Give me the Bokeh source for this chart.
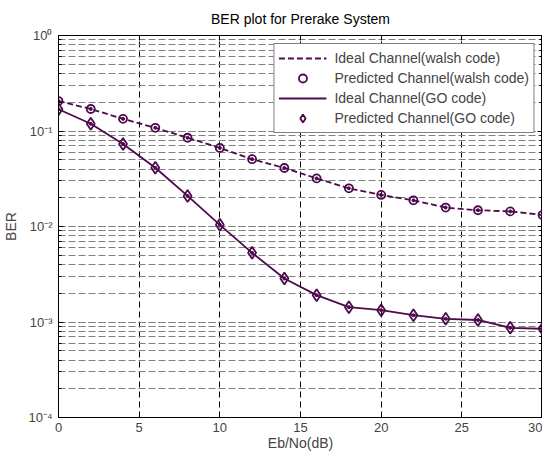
from bokeh.plotting import figure
from bokeh.models import (Range1d, LinearAxis, LogAxis, FixedTicker, LogTicker,
                          Legend, LegendItem)
from bokeh.embed import file_html
from bokeh.resources import INLINE

# ---- data ----
ebno = [0, 2, 4, 6, 8, 10, 12, 14, 16, 18, 20, 22, 24, 26, 28, 30]
ber_walsh_ideal = [0.206, 0.170, 0.134, 0.108, 0.085, 0.0665, 0.0507, 0.041,
                   0.0319, 0.0251, 0.0214, 0.0188, 0.0158, 0.0148, 0.0144, 0.0132]
ber_walsh_pred = [0.206, 0.170, 0.134, 0.108, 0.085, 0.0665, 0.0507, 0.041,
                  0.0319, 0.0251, 0.0214, 0.0188, 0.0158, 0.0148, 0.0144, 0.0132]
ber_go_ideal = [0.169, 0.119, 0.0731, 0.0412, 0.0209, 0.0104, 0.0053, 0.00285,
                0.00191, 0.00143, 0.00133, 0.00118, 0.00108, 0.00105, 0.00087, 0.00085]
ber_go_pred = [0.169, 0.119, 0.0731, 0.0412, 0.0209, 0.0104, 0.0053, 0.00285,
               0.00191, 0.00143, 0.00133, 0.00118, 0.00108, 0.00105, 0.00087, 0.00085]

x_ticks = [0, 5, 10, 15, 20, 25, 30]
y_ticks = [1e-4, 1e-3, 1e-2, 1e-1, 1e0]
y_tick_labels = ["10\u207b\u2074", "10\u207b\u00b3", "10\u207b\u00b2", "10\u207b\u00b9", "10\u2070"]
legend_labels = ["Ideal Channel(walsh code)", "Predicted Channel(walsh code)",
                 "Ideal Channel(GO code)", "Predicted Channel(GO code)"]

COLOR = "#4d0a4d"
FONT = "Liberation Sans"

p = figure(frame_width=484, frame_height=382, output_backend="svg", toolbar_location=None,
           y_axis_type="log", x_range=Range1d(0, 30), y_range=Range1d(1e-4, 1),
           title="BER plot for Prerake System",
           min_border_left=52, min_border_right=0, min_border_bottom=34,
           min_border_top=27)
p.title.align = "center"
p.title.text_font = FONT
p.title.text_font_size = "14px"
p.title.text_font_style = "normal"
p.title.text_color = "#000000"
p.title.standoff = 17

p.outline_line_color = "black"
p.outline_line_width = 1
p.background_fill_color = "white"
p.border_fill_color = "white"

# axes
xa = p.xaxis[0]
xa.ticker = FixedTicker(ticks=x_ticks)
xa.axis_label = "Eb/No(dB)"
ya = p.yaxis[0]
ya.ticker = LogTicker(num_minor_ticks=10)
ya.major_label_overrides = {v: s for v, s in zip(y_ticks, y_tick_labels)}
ya.axis_label = "BER"
for ax in (xa, ya):
    ax.axis_label_text_font = FONT
    ax.axis_label_text_font_size = "14px"
    ax.axis_label_text_font_style = "normal"
    ax.major_label_text_font = FONT
    ax.major_label_text_font_size = "13px"
    ax.major_tick_in = 5
    ax.major_tick_out = 0
    ax.minor_tick_in = 3
    ax.minor_tick_out = 0
    ax.axis_line_color = "black"
    ax.major_tick_line_color = "black"
    ax.minor_tick_line_color = "black"
xa.minor_tick_line_color = None
xa.major_label_standoff = 5
xa.axis_label_standoff = 0
ya.major_label_standoff = 6
ya.axis_label_standoff = 6

top = LinearAxis(ticker=FixedTicker(ticks=x_ticks),
                 major_label_overrides={v: "" for v in x_ticks},
                 major_label_standoff=0,
                 major_tick_in=5, major_tick_out=0, minor_tick_line_color=None,
                 axis_line_color="black")
right = LogAxis(ticker=LogTicker(num_minor_ticks=10),
                major_label_overrides={v: "" for v in y_ticks},
                major_label_standoff=0,
                major_tick_in=5, major_tick_out=0, minor_tick_in=3, minor_tick_out=0,
                axis_line_color="black")
p.add_layout(top, "above")
p.add_layout(right, "right")

# grids
p.xgrid.ticker = FixedTicker(ticks=x_ticks)
p.xgrid.grid_line_color = "black"
p.xgrid.grid_line_dash = "6 4"
p.xgrid.grid_line_width = 1
p.ygrid.grid_line_color = "#808080"
p.ygrid.grid_line_dash = "7 3"
p.ygrid.minor_grid_line_color = "#808080"
p.ygrid.minor_grid_line_dash = "7 3"

# series
l1 = p.line(ebno, ber_walsh_ideal, line_color=COLOR, line_width=1.8, line_dash="6 3")
d1 = p.scatter(ebno, ber_walsh_ideal, marker="circle", size=3, color=COLOR)
m1 = p.scatter(ebno, ber_walsh_pred, marker="circle", size=8, fill_color=None,
               line_color=COLOR, line_width=1.8)
l2 = p.line(ebno, ber_go_ideal, line_color=COLOR, line_width=1.8)
d2 = p.scatter(ebno, ber_go_ideal, marker="circle", size=3, color=COLOR)
m2 = p.scatter(ebno, ber_go_pred, marker="diamond", size=12,
               fill_color=None, line_color=COLOR, line_width=1.8)

legend = Legend(items=[
    LegendItem(label=legend_labels[0], renderers=[l1]),
    LegendItem(label=legend_labels[1], renderers=[m1]),
    LegendItem(label=legend_labels[2], renderers=[l2]),
    LegendItem(label=legend_labels[3], renderers=[m2]),
], location="top_right")
legend.margin = 8
legend.padding = 4
legend.spacing = 0
legend.glyph_width = 48
legend.glyph_height = 20
legend.label_height = 20
legend.label_standoff = 8
legend.label_text_font = FONT
legend.label_text_font_size = "14px"
legend.border_line_color = "black"
legend.border_line_width = 1.5
legend.background_fill_color = "white"
legend.background_fill_alpha = 1.0
p.add_layout(legend)

open("out.html", "w").write(file_html(p, INLINE))
